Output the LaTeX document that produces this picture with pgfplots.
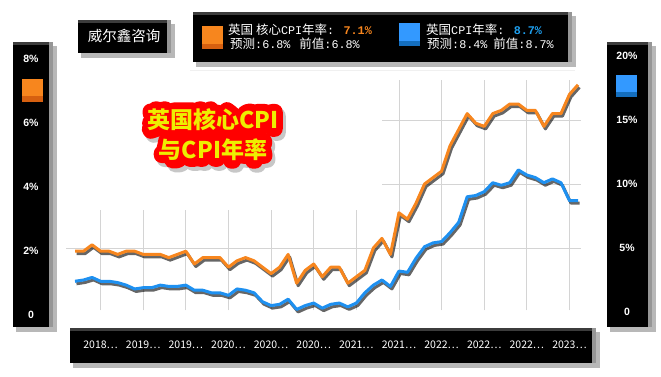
\documentclass[border=0pt]{standalone}
\usepackage{pgfplots}
\pgfplotsset{compat=1.18}
\usepackage{pgfplotstable}
\usepackage{fontspec}
\setmainfont{Noto Sans CJK SC}
\newfontfamily\lib{Liberation Sans}
\newfontfamily\mono[Scale=0.94]{Liberation Mono}
\newfontfamily\ttlred[FakeBold=70]{Noto Sans CJK SC}
\definecolor{cOr}{RGB}{247,134,30}
\definecolor{cOrD}{RGB}{214,96,16}
\definecolor{cBl}{RGB}{30,144,240}
\definecolor{cBlD}{RGB}{20,110,190}
\definecolor{cBlSq}{RGB}{51,153,255}
\definecolor{cBlTx}{RGB}{30,160,240}
\definecolor{cYel}{RGB}{238,238,0}
\definecolor{gridc}{RGB}{212,212,212}
\definecolor{bev}{RGB}{150,150,150}
\definecolor{topb}{RGB}{60,60,60}

\pgfplotstableread{
x core cpi
0 1.9 2.4
1 1.9 2.5
2 2.1 2.7
3 1.9 2.4
4 1.9 2.4
5 1.8 2.3
6 1.9 2.1
7 1.9 1.8
8 1.8 1.9
9 1.8 1.9
10 1.8 2.1
11 1.7 2.0
12 1.8 2.0
13 1.9 2.1
14 1.5 1.7
15 1.7 1.7
16 1.7 1.5
17 1.7 1.5
18 1.4 1.3
19 1.6 1.8
20 1.7 1.7
21 1.6 1.5
22 1.4 0.8
23 1.2 0.5
24 1.4 0.6
25 1.8 1.0
26 0.9 0.2
27 1.3 0.5
28 1.5 0.7
29 1.1 0.3
30 1.4 0.6
31 1.4 0.7
32 0.9 0.4
33 1.1 0.7
34 1.3 1.5
35 2.0 2.1
36 2.3 2.5
37 1.8 2.0
38 3.1 3.2
39 2.9 3.1
40 3.4 4.2
41 4.0 5.1
42 4.2 5.4
43 4.4 5.5
44 5.2 6.2
45 5.7 7.0
46 6.2 9.0
47 5.9 9.1
48 5.8 9.4
49 6.2 10.1
50 6.3 9.9
51 6.5 10.1
52 6.5 11.1
53 6.3 10.7
54 6.3 10.5
55 5.8 10.1
56 6.2 10.4
57 6.2 10.1
58 6.8 8.7
59 7.1 8.7
}\datatab

% panel: x1, ytop(px), x2, ybottom(px)
\newcommand\panel[4]{%
  \fill[black,opacity=0.28] (#1+3,377-#4-5) rectangle (#3+4,377-#2-4);
  \fill[bev] (#1,377-#4) rectangle (#3,377-#2);
  \fill[topb] (#1,377-#4) rectangle (#3-4,377-#2);
  \fill[black] (#1,377-#4) rectangle (#3-4,377-#2-3);
}
\newcommand\ttltext{英国核心CPI\\与CPI年率}
\newcommand\ttlfont{\bfseries\fontsize{23}{30}\selectfont}
\newcommand\ttlredfont{\ttlred\fontsize{23}{30}\selectfont}
\newcommand\roundjoin{\special{pdf:literal direct 1 j 1 J}}

\begin{document}
\begin{tikzpicture}[x=1pt,y=1pt]
\useasboundingbox (0,0) rectangle (661,377);

% panels
\panel{13}{42}{53}{327}
\panel{607}{42}{652}{327}
\panel{70}{328}{596}{363}
\panel{78}{20}{171}{53}
\panel{193}{12}{572}{62}

\draw[gray!12, line width=1pt] (190,306) -- (575,306);

% squares on side panels
\fill[cOr] (22,275) rectangle (43,298);
\fill[cOrD] (22,275) rectangle (43,281);
\fill[cBlSq] (616,280) rectangle (637,302);
\fill[cBlD] (616,280) rectangle (637,285);

\begin{axis}[
  at={(75pt,65pt)}, anchor=south west, scale only axis,
  width=503pt, height=256pt,
  xmin=0, xmax=59, ymin=0, ymax=8, clip=false,
  axis line style={draw=none}, tick style={draw=none}, major tick length=0pt,
  xtick={3,8,...,58},
  xticklabels={2018…,2019…,2019…,2020…,2020…,2020…,2021…,2021…,2022…,2022…,2022…,2023…},
  xticklabel style={font=\fontsize{10.5}{12}\selectfont, text=white, anchor=base, yshift=-37pt},
  ytick={0,2,4,6,8},
  yticklabels={0,2\%,4\%,6\%,8\%},
  yticklabel style={font=\lib\bfseries\fontsize{10.5}{12}\selectfont, text=white, anchor=center, xshift=-44pt, yshift=-3pt},
]
% grid
\pgfplotsinvokeforeach{3,8,...,58}{\draw[gridc, line width=0.9pt] (axis cs:#1,0.05) -- (axis cs:#1,7.25);}
\pgfplotsinvokeforeach{2,4,6}{\draw[gridc, line width=0.9pt] (axis cs:-1,#1) -- (axis cs:59.4,#1);}
\fill[white] (axis cs:-2,3.19) rectangle (axis cs:36,7.4);
% core CPI (left axis)
\addplot[black, opacity=0.6, line width=3pt, line join=round, transform canvas={xshift=1.5pt,yshift=-2.5pt}] table[x=x,y=core] {\datatab};
\addplot[cOr, line width=3pt, line join=round] table[x=x,y=core] {\datatab};
\end{axis}

\begin{axis}[
  at={(75pt,65pt)}, anchor=south west, scale only axis,
  width=503pt, height=256pt,
  xmin=0, xmax=59, ymin=0, ymax=20, clip=false,
  axis line style={draw=none}, tick style={draw=none}, major tick length=0pt,
  xtick=\empty,
  ytick={0,5,10,15,20},
  yticklabels={0,5\%,10\%,15\%,20\%},
  yticklabel pos=right,
  yticklabel style={font=\lib\bfseries\fontsize{10.5}{12}\selectfont, text=white, anchor=center, xshift=49pt},
]
\addplot[black, opacity=0.6, line width=3pt, line join=round, transform canvas={xshift=1.5pt,yshift=-2.5pt}] table[x=x,y=cpi] {\datatab};
\addplot[cBl, line width=3pt, line join=round] table[x=x,y=cpi] {\datatab};
\end{axis}

% title with red outline (stroked text) and soft shadow
\node[text=black!22, align=center, font=\ttlredfont] at (216,238) {\roundjoin\ttltext};
\node[text=red, align=center, font=\ttlredfont] at (213,242) {\roundjoin\ttltext};
\node[text=cYel, align=center, font=\ttlfont] at (213,242) {\ttltext};

% name box
\node[text=white, font=\fontsize{14.5}{16}\selectfont] at (124,341) {威尔鑫咨询};

% legend
\fill[cOr] (202,328) rectangle (223,351);
\fill[cOrD] (202,328) rectangle (223,333);
\fill[cBlSq] (399,331) rectangle (420,354);
\fill[cBlD] (399,331) rectangle (420,336);
\node[anchor=base west, inner sep=0, text=white, font=\fontsize{12.5}{14}\selectfont] at (228,342.5) {英国 核心{\mono CPI}年率{\mono: \textcolor{cOr}{\bfseries 7.1\%}}};
\node[anchor=base west, inner sep=0, text=white, font=\fontsize{12.5}{14}\selectfont] at (230,328) {预测{\mono :6.8\%}\hspace{9pt}前值{\mono :6.8\%}};
\node[anchor=base west, inner sep=0, text=white, font=\fontsize{12.5}{14}\selectfont] at (426,342.5) {英国{\mono CPI}年率{\mono: \textcolor{cBlTx}{\bfseries 8.7\%}}};
\node[anchor=base west, inner sep=0, text=white, font=\fontsize{12.5}{14}\selectfont] at (427,328) {预测{\mono :8.4\%}\hspace{6pt}前值{\mono :8.7\%}};
\end{tikzpicture}
\end{document}
